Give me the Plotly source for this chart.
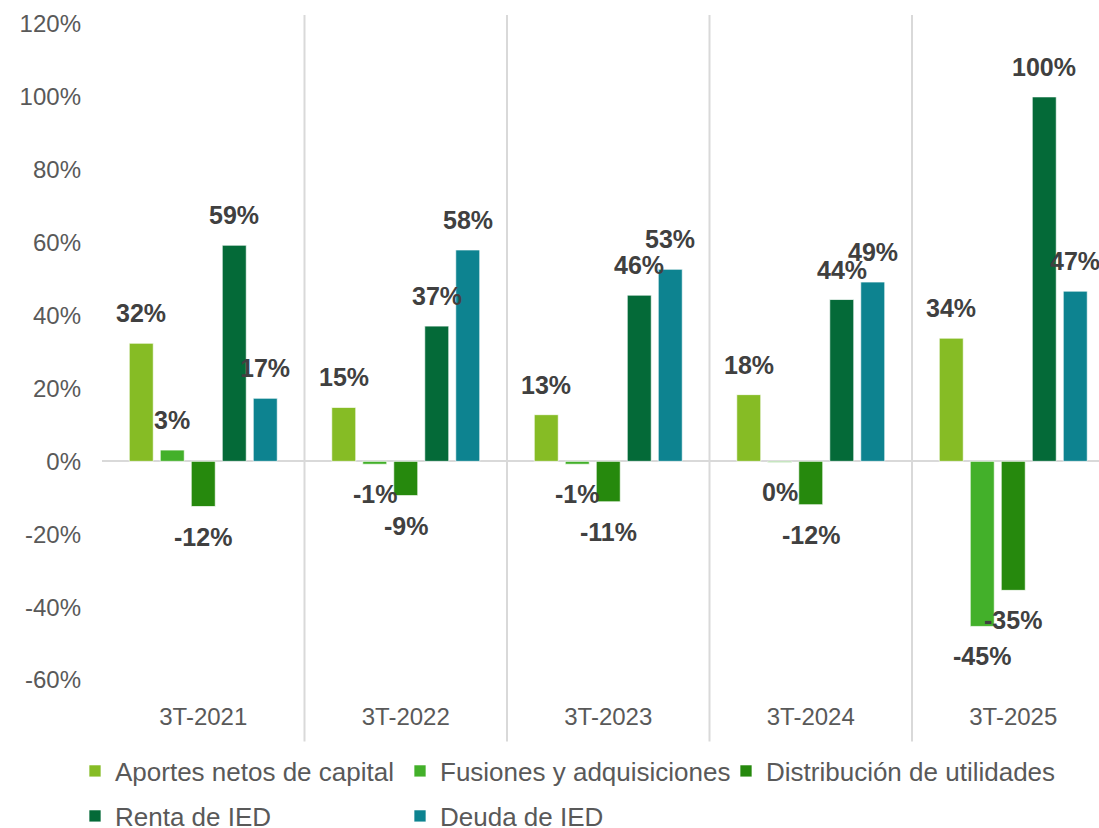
import plotly.graph_objects as go

categories = ["3T-2021", "3T-2022", "3T-2023", "3T-2024", "3T-2025"]
series_names = ["Aportes netos de capital", "Fusiones y adquisiciones",
                "Distribución de utilidades", "Renta de IED", "Deuda de IED"]
aportes = [32.4, 14.8, 12.8, 18.3, 33.8]
fusiones = [3.1, -0.8, -0.8, -0.3, -45.3]
distribucion = [-12.4, -9.4, -11.1, -11.9, -35.4]
renta = [59.3, 37.1, 45.6, 44.4, 100.0]
deuda = [17.3, 58.0, 52.7, 49.2, 46.7]
colors = ["#86BC25", "#43B02A", "#26890D", "#046A38", "#0D8390"]
y_ticks = [-60, -40, -20, 0, 20, 40, 60, 80, 100, 120]
y_tick_labels = ["-60%", "-40%", "-20%", "0%", "20%", "40%", "60%", "80%", "100%", "120%"]

series = [aportes, fusiones, distribucion, renta, deuda]
xs = list(range(len(categories)))

BARGAP = 0.2346
GROUPGAP = 0.2258
n = len(series)
slot = (1 - BARGAP) / n

# one legend per entry, laid out as a 3-column grid (two rows)
legend_ids = ["legend", "legend2", "legend3", "legend4", "legend5"]
legend_cols_px = [75, 400, 726, 75, 400]
legend_rows_px = [771, 771, 771, 816, 816]

fig = go.Figure()
annotations = []
for i, (name, vals, col) in enumerate(zip(series_names, series, colors)):
    fig.add_trace(go.Bar(
        x=xs, y=vals, name=name,
        marker=dict(color=col, line=dict(color="rgba(255,255,255,0.7)", width=1)),
        legend=legend_ids[i],
        hoverinfo="skip",
    ))
    off = (i - (n - 1) / 2) * slot
    for x, v in zip(xs, vals):
        pos = v >= 0 and round(v) != 0
        annotations.append(dict(
            x=x + off, y=v, xref="x", yref="y",
            text=f"{int(round(v))}%", showarrow=False,
            yanchor="bottom" if pos else "top",
            yshift=14 if pos else -14,
            font=dict(family="Liberation Sans, Arial", size=25, color="#404040", weight="bold"),
        ))

# plot-area geometry
W, H = 1099, 828
top_px, bot_px = 24, 680.5
h_px = bot_px - top_px
shapes = []
for k in range(len(categories) - 1):
    shapes.append(dict(type="line", xref="x", yref="paper",
                       x0=k + 0.5, x1=k + 0.5,
                       y0=(bot_px - 742) / h_px, y1=(bot_px - 15) / h_px,
                       line=dict(color="#D9D9D9", width=2), layer="below"))

legend_font = dict(family="Liberation Sans, Arial", size=26, color="#595959")
legends = {}
for lid, lx, ly in zip(legend_ids, legend_cols_px, legend_rows_px):
    legends[lid] = dict(orientation="h", xref="container", yref="container",
                        x=lx / W, y=(H - ly) / H, xanchor="left", yanchor="middle",
                        font=legend_font, bgcolor="rgba(0,0,0,0)")

fig.update_layout(
    width=W, height=H,
    margin=dict(l=102, r=0, t=top_px, b=H - bot_px),
    paper_bgcolor="white", plot_bgcolor="white",
    barmode="group", bargap=BARGAP, bargroupgap=GROUPGAP,
    showlegend=True,
    annotations=annotations, shapes=shapes,
    **legends,
)
fig.update_xaxes(
    range=[-0.5, -0.5 + (W - 102) / 202.5],
    tickvals=xs, ticktext=categories,
    showgrid=False, zeroline=False, showline=False, ticks="",
    ticklabelstandoff=20,
    tickfont=dict(family="Liberation Sans, Arial", size=24, color="#595959"),
)
fig.update_yaxes(
    range=[-60, 120], tickvals=y_ticks, ticktext=y_tick_labels,
    showgrid=False, zeroline=True, zerolinecolor="#D9D9D9", zerolinewidth=2,
    showline=False, ticks="", ticklabelstandoff=20,
    tickfont=dict(family="Liberation Sans, Arial", size=24, color="#595959"),
)

fig.write_html("out.html", config={"displayModeBar": False},
               post_script="document.body.style.margin='0';document.body.style.overflow='hidden';")
